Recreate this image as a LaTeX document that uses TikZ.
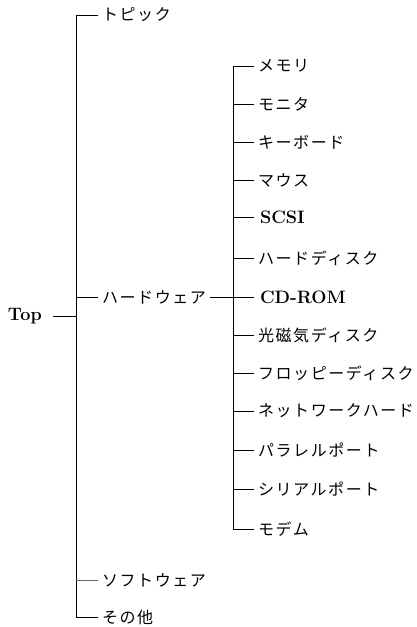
\documentclass[tikz,border=0pt]{standalone}
\usepackage{fontspec}
\newfontfamily\jp[LetterSpace=10]{Noto Sans CJK JP}
\begin{document}
\begin{tikzpicture}[x=1pt,y=1pt,
  every node/.style={inner sep=0pt, outer sep=0pt},
  jtext/.style={font=\jp\fontsize{16}{19}\selectfont, anchor=west, inner xsep=4pt},
  ltext/.style={font=\fontsize{18}{21}\selectfont\bfseries, anchor=west, inner xsep=6pt},
  link/.style={line width=0.85pt},
  thinlink/.style={line width=0.6pt, black!60}]
\useasboundingbox (0,0) rectangle (416,627);
% main level
\node[ltext, inner xsep=0pt] (top) at (8,311) {Top};
\node[jtext] (topic) at (98,612) {トピック};
\node[jtext] (hard) at (98,330) {ハードウェア};
\node[jtext] (soft) at (98,47) {ソフトウェア};
\node[jtext] (other) at (98,10) {その他};
\coordinate (bar) at (76,612);
% sub level
\coordinate (subbar) at (233,561);
\node[jtext] (n1) at (254,561) {メモリ};
\node[jtext] (n2) at (254,523) {モニタ};
\node[jtext] (n3) at (254,485) {キーボード};
\node[jtext] (n4) at (254,447) {マウス};
\node[ltext] (n5) at (254,410) {SCSI};
\node[jtext] (n6) at (254,369) {ハードディスク};
\node[ltext] (n7) at (254,330) {CD-ROM};
\node[jtext] (n8) at (254,292) {光磁気ディスク};
\node[jtext] (n9) at (254,254) {フロッピーディスク};
\node[jtext] (n10) at (254,216) {ネットワークハード};
\node[jtext] (n11) at (254,177) {パラレルポート};
\node[jtext] (n12) at (254,138) {シリアルポート};
\node[jtext] (n13) at (254,98) {モデム};
% connectors main
\draw[link] ([xshift=11pt]top.east) -- (top.east -| bar);
\draw[link] (topic.west) -- (topic.west -| bar) -- (other.west -| bar) -- (other.west);
\draw[link] (hard.west) -- (hard.west -| bar);
\draw[thinlink] (soft.west) -- (soft.west -| bar);
% connectors sub
\draw[link] (hard.east) -- (hard.east -| subbar);
\draw[link] (n1.west) -- (n1.west -| subbar) -- (n13.west -| subbar) -- (n13.west);
\foreach \n in {n2,n3,n4,n5,n6,n7,n8,n9,n10,n11,n12}
  \draw[link] (\n.west) -- (\n.west -| subbar);
\end{tikzpicture}
\end{document}
